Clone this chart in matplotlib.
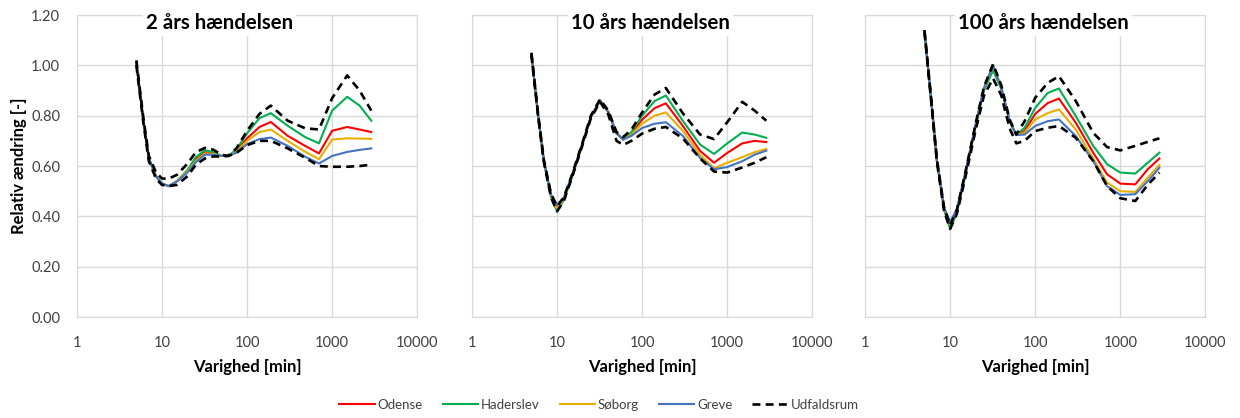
import matplotlib.pyplot as plt
from matplotlib.ticker import FixedLocator, NullLocator, FuncFormatter

plt.rcParams['font.family'] = ['Lato', 'DejaVu Sans']

# Varighed i minutter (fælles for alle serier)
varighed = [5, 6, 7, 8.5, 10, 12, 15, 20, 25, 32, 40, 50, 60, 75,
            100, 140, 190, 300, 480, 700, 1000, 1500, 2100, 2880]

# 2 års hændelsen
odense_2 = [1.01, 0.79, 0.63, 0.56, 0.53, 0.52, 0.54, 0.58, 0.625, 0.655, 0.65, 0.64, 0.64, 0.66,
            0.71, 0.755, 0.775, 0.72, 0.68, 0.65, 0.74, 0.755, 0.745, 0.735]
haderslev_2 = [1.01, 0.79, 0.63, 0.56, 0.53, 0.52, 0.54, 0.585, 0.635, 0.663, 0.655, 0.64, 0.64, 0.665,
               0.73, 0.79, 0.81, 0.76, 0.715, 0.69, 0.82, 0.875, 0.84, 0.78]
soborg_2 = [1.01, 0.79, 0.63, 0.56, 0.53, 0.52, 0.54, 0.58, 0.62, 0.65, 0.648, 0.64, 0.64, 0.657,
            0.70, 0.735, 0.745, 0.70, 0.657, 0.627, 0.705, 0.71, 0.709, 0.708]
greve_2 = [1.01, 0.79, 0.63, 0.56, 0.53, 0.52, 0.538, 0.575, 0.615, 0.645, 0.645, 0.64, 0.64, 0.653,
           0.687, 0.707, 0.713, 0.68, 0.637, 0.61, 0.64, 0.656, 0.664, 0.67]
udfald_hoej_2 = [1.02, 0.80, 0.64, 0.575, 0.55, 0.55, 0.565, 0.61, 0.655, 0.672, 0.665, 0.645, 0.64, 0.67,
                 0.74, 0.807, 0.84, 0.78, 0.75, 0.745, 0.87, 0.96, 0.90, 0.82]
udfald_lav_2 = [1.00, 0.78, 0.62, 0.55, 0.525, 0.52, 0.525, 0.56, 0.605, 0.63, 0.638, 0.638, 0.64, 0.652,
                0.683, 0.70, 0.70, 0.67, 0.633, 0.60, 0.597, 0.597, 0.60, 0.605]

# 10 års hændelsen
odense_10 = [1.045, 0.80, 0.62, 0.48, 0.435, 0.47, 0.56, 0.69, 0.795, 0.86, 0.815, 0.73, 0.705, 0.73,
             0.784, 0.83, 0.849, 0.76, 0.66, 0.613, 0.652, 0.69, 0.70, 0.695]
haderslev_10 = [1.045, 0.80, 0.62, 0.475, 0.42, 0.465, 0.555, 0.69, 0.795, 0.86, 0.815, 0.73, 0.705, 0.735,
                0.80, 0.858, 0.88, 0.78, 0.685, 0.648, 0.69, 0.733, 0.725, 0.712]
soborg_10 = [1.045, 0.80, 0.62, 0.48, 0.43, 0.47, 0.56, 0.69, 0.795, 0.86, 0.815, 0.73, 0.705, 0.725,
             0.768, 0.80, 0.813, 0.74, 0.645, 0.591, 0.613, 0.635, 0.655, 0.668]
greve_10 = [1.045, 0.80, 0.62, 0.485, 0.446, 0.475, 0.565, 0.695, 0.795, 0.86, 0.815, 0.73, 0.705, 0.72,
            0.751, 0.768, 0.774, 0.72, 0.632, 0.587, 0.596, 0.619, 0.645, 0.661]
udfald_hoej_10 = [1.05, 0.805, 0.625, 0.49, 0.44, 0.475, 0.565, 0.695, 0.80, 0.865, 0.82, 0.735, 0.715, 0.745,
                  0.813, 0.884, 0.91, 0.81, 0.725, 0.707, 0.774, 0.855, 0.82, 0.78]
udfald_lav_10 = [1.04, 0.795, 0.615, 0.475, 0.42, 0.46, 0.555, 0.685, 0.79, 0.855, 0.805, 0.70, 0.684, 0.70,
                 0.729, 0.748, 0.755, 0.71, 0.63, 0.578, 0.574, 0.594, 0.613, 0.635]

# 100 års hændelsen
odense_100 = [1.135, 0.86, 0.62, 0.43, 0.365, 0.423, 0.567, 0.764, 0.908, 0.995, 0.91, 0.78, 0.723, 0.739,
              0.807, 0.85, 0.868, 0.772, 0.653, 0.567, 0.53, 0.527, 0.587, 0.63]
haderslev_100 = [1.135, 0.86, 0.62, 0.425, 0.35, 0.415, 0.56, 0.76, 0.90, 0.98, 0.905, 0.78, 0.723, 0.752,
                 0.831, 0.89, 0.908, 0.798, 0.68, 0.607, 0.574, 0.57, 0.613, 0.653]
soborg_100 = [1.135, 0.86, 0.62, 0.43, 0.368, 0.425, 0.567, 0.764, 0.908, 1.0, 0.91, 0.78, 0.723, 0.732,
              0.785, 0.81, 0.825, 0.745, 0.629, 0.534, 0.50, 0.497, 0.554, 0.604]
greve_100 = [1.135, 0.86, 0.62, 0.435, 0.377, 0.43, 0.57, 0.768, 0.91, 1.0, 0.91, 0.78, 0.723, 0.725,
             0.759, 0.778, 0.785, 0.719, 0.62, 0.52, 0.485, 0.488, 0.54, 0.593]
udfald_hoej_100 = [1.14, 0.865, 0.625, 0.435, 0.365, 0.425, 0.57, 0.77, 0.915, 1.005, 0.92, 0.785, 0.725, 0.778,
                   0.871, 0.93, 0.957, 0.858, 0.732, 0.675, 0.662, 0.68, 0.696, 0.71]
udfald_lav_100 = [1.13, 0.855, 0.615, 0.42, 0.35, 0.41, 0.55, 0.745, 0.88, 0.948, 0.88, 0.75, 0.69, 0.70,
                  0.739, 0.752, 0.759, 0.712, 0.62, 0.52, 0.472, 0.461, 0.525, 0.574]

titler = ["2 års hændelsen", "10 års hændelsen", "100 års hændelsen"]
titel_x = [0.42, 0.525, 0.525]
stationer = ["Odense", "Haderslev", "Søborg", "Greve"]
farver = ["#FF0000", "#00B050", "#E8AE00", "#4472C4"]

paneler = [
    ([odense_2, haderslev_2, soborg_2, greve_2], udfald_hoej_2, udfald_lav_2),
    ([odense_10, haderslev_10, soborg_10, greve_10], udfald_hoej_10, udfald_lav_10),
    ([odense_100, haderslev_100, soborg_100, greve_100], udfald_hoej_100, udfald_lav_100),
]

fig = plt.figure(figsize=(12.4, 4.18), dpi=100)
venstre = [0.062, 0.3806, 0.6976]
tekstfarve = "#404040"
gitter = "#D9D9D9"

for i, (serier, hoej, lav) in enumerate(paneler):
    ax = fig.add_axes([venstre[i], 0.2416, 0.2745, 0.7225])
    for navn, y, farve in zip(stationer, serier, farver):
        ax.plot(varighed, y, color=farve, lw=1.5, label=navn)
    ax.plot(varighed, hoej, color="black", lw=1.9, ls=(0, (3, 2)), label="Udfaldsrum")
    ax.plot(varighed, lav, color="black", lw=1.9, ls=(0, (3, 2)))

    ax.set_xscale("log")
    ax.set_xlim(1, 10000)
    ax.set_ylim(0, 1.2)
    ax.xaxis.set_major_locator(FixedLocator([1, 10, 100, 1000, 10000]))
    ax.xaxis.set_minor_locator(NullLocator())
    ax.xaxis.set_major_formatter(FuncFormatter(lambda v, p: f"{v:g}"))
    ax.set_yticks([0, 0.2, 0.4, 0.6, 0.8, 1.0, 1.2])
    ax.yaxis.set_major_formatter(FuncFormatter(lambda v, p: f"{v:.2f}"))
    ax.grid(True, color=gitter, lw=1)
    ax.set_axisbelow(True)
    for s in ax.spines.values():
        s.set_color(gitter)
    ax.tick_params(length=0, labelsize=10.5, colors=tekstfarve)
    ax.tick_params(axis="x", pad=14)
    ax.tick_params(axis="y", pad=12)
    if i > 0:
        ax.tick_params(labelleft=False)
    else:
        ax.set_ylabel("Relativ ændring [-]", fontsize=12, fontweight="bold", labelpad=3)
    ax.set_xlabel("Varighed [min]", fontsize=12, fontweight="bold", labelpad=6)

    ax.text(titel_x[i], 0.972, titler[i], transform=ax.transAxes, ha="center", va="center",
            fontsize=14.7, fontweight="bold", zorder=5,
            bbox=dict(facecolor="white", edgecolor="none", pad=2))

    if i == 0:
        handles, labels = ax.get_legend_handles_labels()

fig.legend(handles, labels, loc="center", bbox_to_anchor=(0.483, 0.031), ncol=5, frameon=False,
           fontsize=9.5, handlelength=2.7, handletextpad=0.2, columnspacing=1.5,
           labelcolor=tekstfarve)

fig.savefig("out.png", dpi=100)
